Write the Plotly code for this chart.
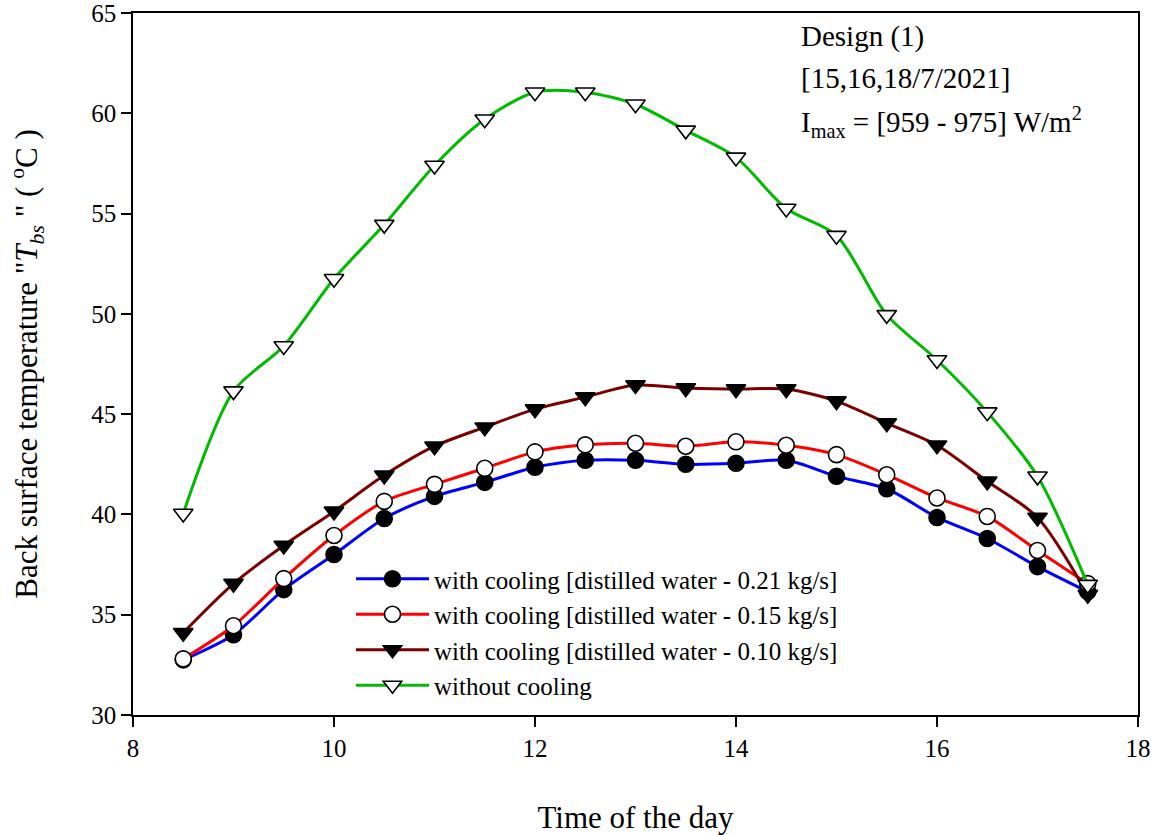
import plotly.graph_objects as go

time = [8.5, 9, 9.5, 10, 10.5, 11, 11.5, 12, 12.5, 13, 13.5, 14, 14.5, 15, 15.5, 16, 16.5, 17, 17.5]

t_021 = [32.75, 34.0, 36.25, 38.0, 39.8, 40.9, 41.6, 42.35, 42.7, 42.7, 42.5, 42.55, 42.7, 41.9, 41.28, 39.85, 38.8, 37.4, 36.15]
t_015 = [32.8, 34.45, 36.8, 38.95, 40.65, 41.5, 42.3, 43.12, 43.47, 43.55, 43.4, 43.62, 43.45, 42.98, 41.98, 40.82, 39.9, 38.2, 36.55]
t_010 = [34.1, 36.55, 38.45, 40.15, 41.95, 43.4, 44.35, 45.25, 45.85, 46.45, 46.3, 46.25, 46.25, 45.65, 44.55, 43.45, 41.65, 39.85, 36.0]
t_none = [40.05, 46.15, 48.4, 51.75, 54.45, 57.4, 59.7, 61.05, 61.05, 60.45, 59.15, 57.8, 55.25, 53.9, 49.95, 47.7, 45.1, 41.9, 36.5]

names = [
    "with cooling [distilled water - 0.21 kg/s]",
    "with cooling [distilled water - 0.15 kg/s]",
    "with cooling [distilled water - 0.10 kg/s]",
    "without cooling",
]

x_ticks = [8, 10, 12, 14, 16, 18]
y_ticks = [30, 35, 40, 45, 50, 55, 60, 65]

info_lines = ["Design (1)", "[15,16,18/7/2021]", "I<sub>max</sub> = [959 - 975] W/m<sup>2</sup>"]

FONT = "Liberation Serif, Times New Roman, serif"

styles = [
    dict(color="#0000ff", symbol="circle", mfill="black", msize=16),
    dict(color="#ff0000", symbol="circle", mfill="white", msize=16),
    dict(color="#7a0000", symbol="triangle-down", mfill="black", msize=17),
    dict(color="#00bb00", symbol="triangle-down", mfill="white", msize=17),
]

fig = go.Figure()
for ys, nm, st in zip([t_021, t_015, t_010, t_none], names, styles):
    fig.add_trace(go.Scatter(
        x=time, y=ys, name=nm, mode="lines+markers",
        line=dict(color=st["color"], width=3, shape="spline", smoothing=0.8),
        marker=dict(symbol=st["symbol"], size=st["msize"], color=st["mfill"],
                    line=dict(color="black", width=1.6)),
    ))

axis_common = dict(
    showline=True, linecolor="black", linewidth=1.5, mirror=True,
    ticks="outside", ticklen=10, tickwidth=1.5, tickcolor="black",
    showgrid=False, zeroline=False, automargin=False, ticklabeloverflow="allow",
    tickfont=dict(family=FONT, size=25, color="black"),
)

fig.update_xaxes(range=[8, 18], tickvals=x_ticks, ticktext=[str(v) for v in x_ticks],
                 title=dict(text="Time of the day", font=dict(family=FONT, size=31, color="black"), standoff=46),
                 **axis_common)
fig.update_yaxes(range=[30, 65], tickvals=y_ticks, ticktext=[str(v) for v in y_ticks],
                 title=dict(text='Back surface temperature "<i>T</i><sub><i>bs</i></sub> " ( <sup>o</sup>C )',
                            font=dict(family=FONT, size=31, color="black"), standoff=44),
                 **axis_common)

for i, (txt, ypx) in enumerate(zip(info_lines, [37, 78, 122])):
    fig.add_annotation(
        xref="paper", yref="paper", x=(799 - 133) / 1005, y=1 - (ypx - 13) / 702,
        xanchor="left", yanchor="middle", text=txt, align="left", showarrow=False,
        font=dict(family=FONT, size=29, color="black"),
    )

fig.update_layout(
    width=1157, height=835,
    margin=dict(l=133, r=19, t=13, b=120),
    paper_bgcolor="white", plot_bgcolor="white",
    showlegend=True,
    legend=dict(x=(351 - 133) / 1005, y=1 - (556 - 13) / 702, xanchor="left", yanchor="top",
                bgcolor="rgba(0,0,0,0)", borderwidth=0,
                font=dict(family=FONT, size=25, color="black"),
                itemwidth=73, tracegroupgap=0),
)

fig.write_html("out.html")
